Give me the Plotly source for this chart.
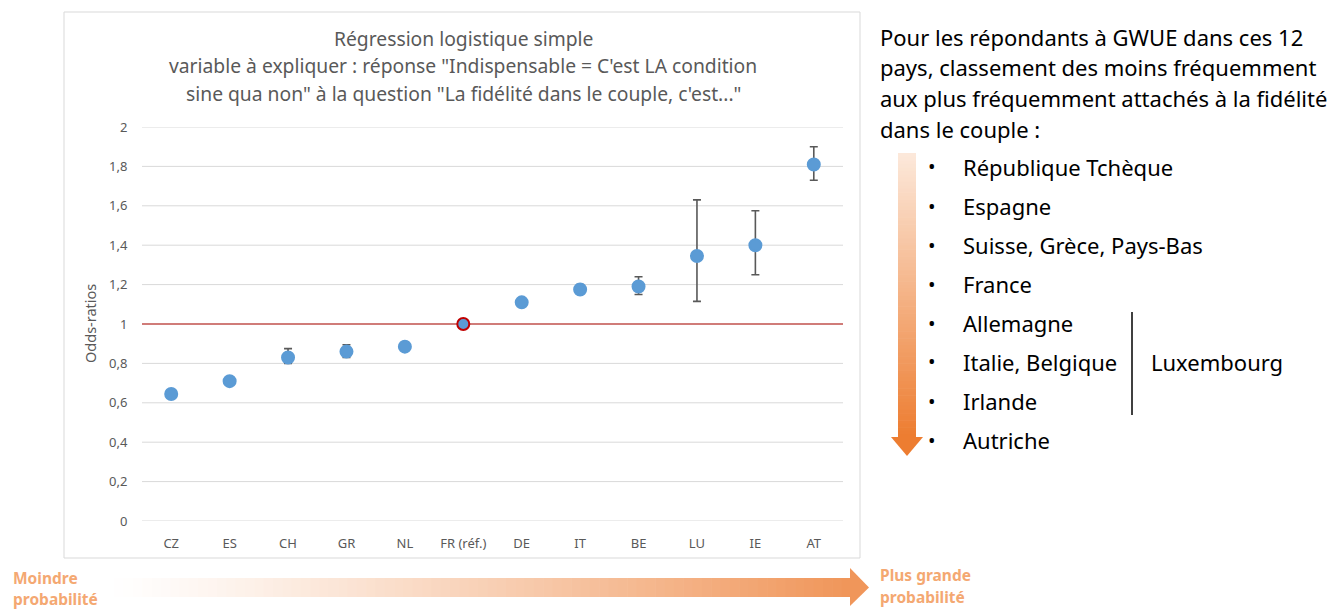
import plotly.graph_objects as go

# data
countries = ["CZ", "ES", "CH", "GR", "NL", "FR (réf.)", "DE", "IT", "BE", "LU", "IE", "AT"]
odds_ratios = [0.645, 0.71, 0.83, 0.86, 0.885, 1.0, 1.11, 1.175, 1.19, 1.345, 1.40, 1.81]
ci_low = [0.63, 0.70, 0.80, 0.83, 0.865, 1.0, 1.095, 1.16, 1.15, 1.115, 1.25, 1.73]
ci_high = [0.66, 0.72, 0.875, 0.895, 0.91, 1.0, 1.125, 1.20, 1.24, 1.63, 1.575, 1.90]
y_ticks = [0, 0.2, 0.4, 0.6, 0.8, 1, 1.2, 1.4, 1.6, 1.8, 2]
reference_value = 1

title_lines = [
    "Régression logistique simple",
    "variable à expliquer : réponse \"Indispensable = C'est LA condition",
    "sine qua non\" à la question \"La fidélité dans le couple, c'est...\"",
]
intro_lines = [
    "Pour les répondants à GWUE dans ces 12",
    "pays, classement des moins fréquemment",
    "aux plus fréquemment attachés à la fidélité",
    "dans le couple :",
]
ranking = [
    "République Tchèque", "Espagne", "Suisse, Grèce, Pays-Bas", "France",
    "Allemagne", "Italie, Belgique", "Irlande", "Autriche",
]

W, H = 1344, 610
BLUE = "#5b9bd5"
GREY = "#595959"
ORANGE_TXT = "#f4a872"
FONT = "Noto Sans"


def px(x):
    return x / W


def py(y):
    return 1 - y / H


def mix(c1, c2, t):
    return "rgb({},{},{})".format(*[round(a + (b - a) * t) for a, b in zip(c1, c2)])


ref_idx = countries.index("FR (réf.)")
fig = go.Figure()

fig.add_trace(go.Scatter(
    x=countries,
    y=odds_ratios,
    mode="markers",
    marker=dict(
        color=BLUE, size=12,
        line=dict(color=[("#c00000" if i == ref_idx else BLUE) for i in range(len(countries))], width=2),
    ),
    error_y=dict(
        type="data", symmetric=False,
        array=[h - v for h, v in zip(ci_high, odds_ratios)],
        arrayminus=[v - l for v, l in zip(odds_ratios, ci_low)],
        color=GREY, thickness=1.6, width=4,
    ),
    showlegend=False,
))

shapes = []
annotations = []

# chart frame
shapes.append(dict(type="rect", xref="paper", yref="paper",
                   x0=px(64), x1=px(860), y0=py(558), y1=py(12),
                   line=dict(color="#d9d9d9", width=1), layer="below"))

# horizontal gridlines (drawn as shapes so the reference line can sit on top)
for v in y_ticks:
    if v == reference_value:
        continue
    shapes.append(dict(type="line", xref="x domain", yref="y", x0=0, x1=1, y0=v, y1=v,
                       line=dict(color="#d9d9d9", width=1), layer="below"))

# reference line at odds ratio = 1
shapes.append(dict(type="line", xref="x domain", yref="y", x0=0, x1=1,
                   y0=reference_value, y1=reference_value,
                   line=dict(color="#c0504d", width=1.3), layer="below"))

# bottom gradient arrow
c_white = (255, 255, 255)
c_orange = (240, 150, 90)
n = 80
x_start, x_end = 105, 851
for i in range(n):
    t = i / (n - 1)
    x0 = x_start + (x_end - x_start) * i / n
    x1 = x_start + (x_end - x_start) * (i + 1) / n + 0.6
    shapes.append(dict(type="rect", xref="paper", yref="paper",
                       x0=px(x0), x1=px(x1), y0=py(597), y1=py(578),
                       fillcolor=mix(c_white, c_orange, t ** 1.2), line=dict(width=0)))
shapes.append(dict(type="path", xref="paper", yref="paper",
                   path="M {} {} L {} {} L {} {} Z".format(px(850), py(568), px(869), py(587.5), px(850), py(606)),
                   fillcolor=mix(c_white, c_orange, 1), line=dict(width=0)))

# right vertical gradient arrow
c_top = (252, 232, 218)
c_bot = (237, 125, 49)
y_start, y_end = 153, 438
for i in range(n):
    t = i / (n - 1)
    y0 = y_start + (y_end - y_start) * i / n
    y1 = y_start + (y_end - y_start) * (i + 1) / n + 0.6
    shapes.append(dict(type="rect", xref="paper", yref="paper",
                       x0=px(898), x1=px(916), y0=py(y1), y1=py(y0),
                       fillcolor=mix(c_top, c_bot, t), line=dict(width=0)))
shapes.append(dict(type="path", xref="paper", yref="paper",
                   path="M {} {} L {} {} L {} {} Z".format(px(891), py(437), px(907), py(456), px(923), py(437)),
                   fillcolor=mix(c_top, c_bot, 1), line=dict(width=0)))

# bracket line for Luxembourg
shapes.append(dict(type="line", xref="paper", yref="paper",
                   x0=px(1132), x1=px(1132), y0=py(312), y1=py(415),
                   line=dict(color="#000000", width=1.5)))

# chart title
for i, line in enumerate(title_lines):
    annotations.append(dict(text=line, xref="paper", yref="paper", x=px(463), y=py(39 + 27 * i),
                            xanchor="center", yanchor="middle", showarrow=False,
                            font=dict(family=FONT, size=19.3, color=GREY)))

# y axis title
annotations.append(dict(text="Odds-ratios", xref="paper", yref="paper", x=px(90), y=py(324),
                        xanchor="center", yanchor="middle", textangle=-90, showarrow=False,
                        font=dict(family=FONT, size=14.5, color=GREY)))

# right hand text
for i, line in enumerate(intro_lines):
    annotations.append(dict(text=line, xref="paper", yref="paper", x=px(878), y=py(37 + 30.5 * i),
                            xanchor="left", yanchor="middle", showarrow=False,
                            font=dict(family=FONT, size=22, color="#000000")))
for i, item in enumerate(ranking):
    yy = py(167 + 39 * i)
    annotations.append(dict(text="•", xref="paper", yref="paper", x=px(932), y=yy,
                            xanchor="center", yanchor="middle", showarrow=False,
                            font=dict(family=FONT, size=20, color="#000000")))
    annotations.append(dict(text=item, xref="paper", yref="paper", x=px(961), y=yy,
                            xanchor="left", yanchor="middle", showarrow=False,
                            font=dict(family=FONT, size=22, color="#000000")))
annotations.append(dict(text="Luxembourg", xref="paper", yref="paper", x=px(1149), y=py(362),
                        xanchor="left", yanchor="middle", showarrow=False,
                        font=dict(family=FONT, size=22, color="#000000")))

# bottom arrow labels
for text, x, y in [("Moindre", 11, 578), ("probabilité", 11, 599),
                   ("Plus grande", 878, 575), ("probabilité", 878, 597)]:
    annotations.append(dict(text="<b>" + text + "</b>", xref="paper", yref="paper", x=px(x), y=py(y),
                            xanchor="left", yanchor="middle", showarrow=False,
                            font=dict(family=FONT, size=15.5, color=ORANGE_TXT)))

fig.update_layout(
    width=W, height=H,
    margin=dict(l=0, r=0, t=0, b=0, autoexpand=False),
    paper_bgcolor="white",
    plot_bgcolor="white",
    separators=", ",
    shapes=shapes,
    annotations=annotations,
    xaxis=dict(
        domain=[px(142), px(843)],
        range=[-0.5, len(countries) - 0.5],
        tickfont=dict(family=FONT, size=13, color=GREY),
        showgrid=False, showline=False,
        ticks="outside", ticklen=10, tickcolor="rgba(0,0,0,0)",
        automargin=False,
    ),
    yaxis=dict(
        domain=[py(521), py(127)],
        range=[0, 2],
        tickvals=y_ticks,
        tickfont=dict(family=FONT, size=13, color=GREY),
        showgrid=False,
        zeroline=False, showline=False,
        ticks="outside", ticklen=11, tickcolor="rgba(0,0,0,0)",
        automargin=False,
    ),
)

# drop the default body margin so the figure sits at the page origin
fig.write_html("out.html", config={"displayModeBar": False},
               post_script="document.body.style.margin='0';")
